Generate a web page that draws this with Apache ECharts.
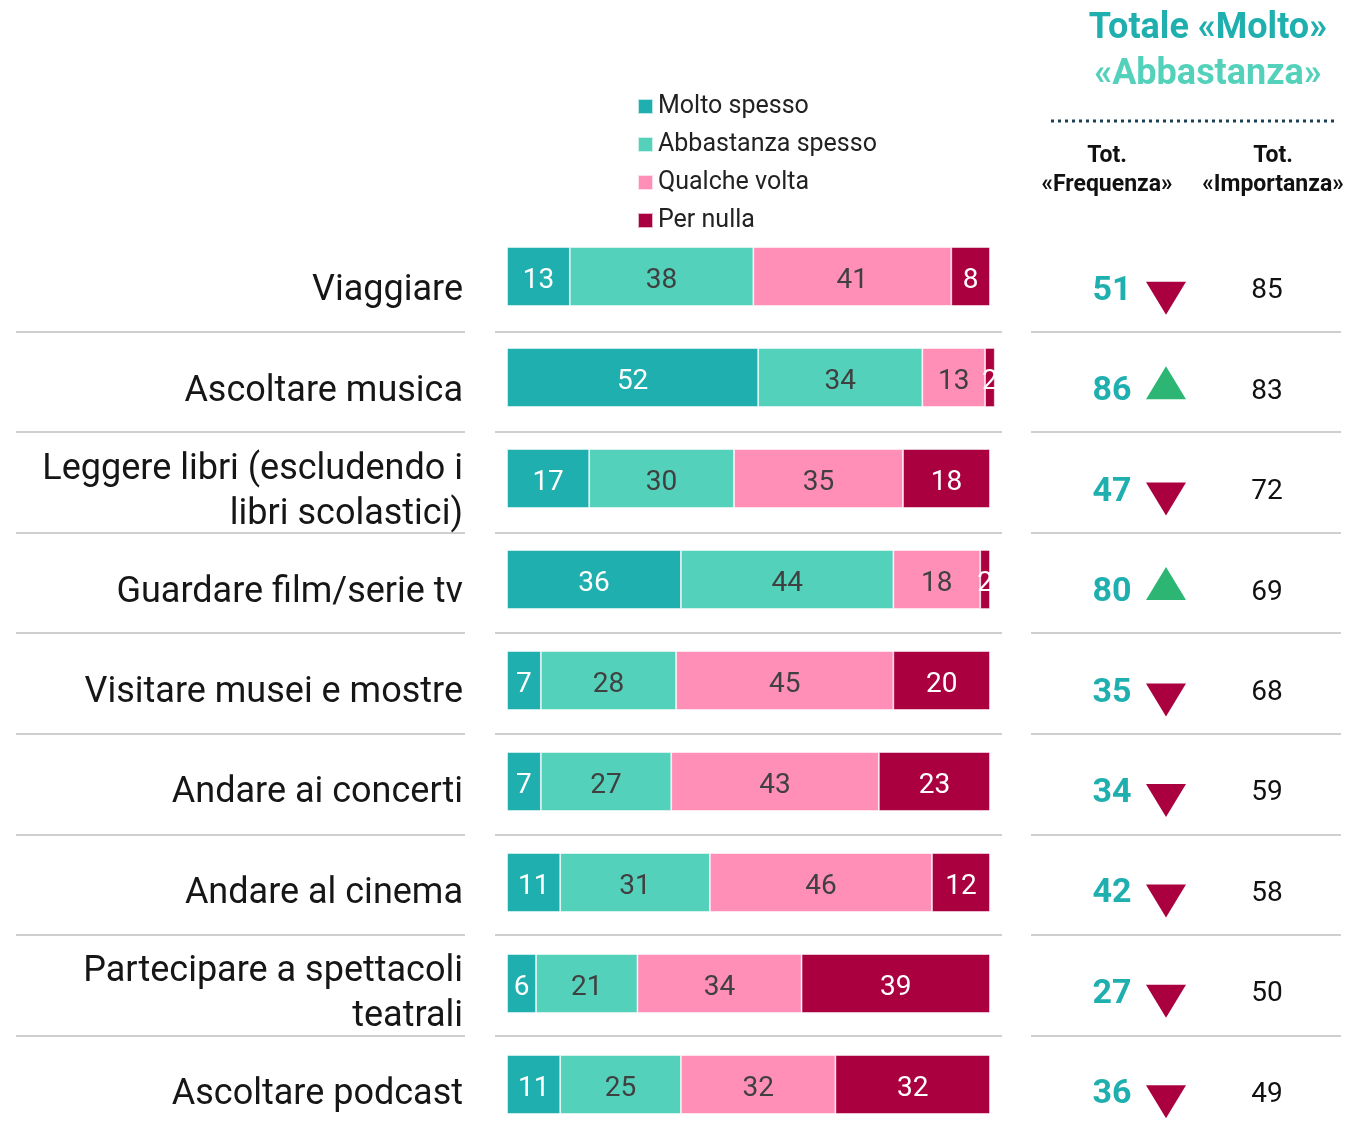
<!DOCTYPE html>
<html>
<head>
<meta charset="utf-8">
<script src="https://cdn.jsdelivr.net/npm/echarts@6/dist/echarts.min.js"></script>
<style>
  html, body { margin: 0; padding: 0; background: #fff; }
  #wrap { width: 1348px; height: 1131px; overflow: hidden; position: relative; }
  #chart { width: 1348px; height: 1180px; }
</style>
</head>
<body>
<div id="wrap"><div id="chart"></div></div>
<script>
// dati
const categories = [
  'Viaggiare',
  'Ascoltare musica',
  'Leggere libri (escludendo i\nlibri scolastici)',
  'Guardare film/serie tv',
  'Visitare musei e mostre',
  'Andare ai concerti',
  'Andare al cinema',
  'Partecipare a spettacoli\nteatrali',
  'Ascoltare podcast'
]
const seriesNames = ['Molto spesso', 'Abbastanza spesso', 'Qualche volta', 'Per nulla']
const moltoSpesso = [13, 52, 17, 36, 7, 7, 11, 6, 11]
const abbastanzaSpesso = [38, 34, 30, 44, 28, 27, 31, 21, 25]
const qualcheVolta = [41, 13, 35, 18, 45, 43, 46, 34, 32]
const perNulla = [8, 2, 18, 2, 20, 23, 12, 39, 32]
const totFrequenza = [51, 86, 47, 80, 35, 34, 42, 27, 36]
const trend = ['down', 'up', 'down', 'up', 'down', 'down', 'down', 'down', 'down']
const totImportanza = [85, 83, 72, 69, 68, 59, 58, 50, 49]

const colors = ['#1fafaf', '#54d1ba', '#ff8fb7', '#ab0040']
const labelColors = ['#fff', '#404040', '#404040', '#fff']
const font = 'Roboto, "Noto Sans", sans-serif'

// colonne della tabella a destra (posizioni nel grid 5, 0..310)
const colFreq = 81
const colArrow = 135
const colImp = 236

const chart = echarts.init(document.getElementById('chart'))

const rowsA = { top: 231, height: 905 } // righe separatrici
const rowsB = { top: 241, height: 904 } // testi

const lineAxis = (gridIndex) => ({
  type: 'category',
  gridIndex,
  inverse: true,
  data: categories,
  axisLine: { show: false },
  axisTick: { show: false },
  axisLabel: { show: false },
  splitLine: {
    show: true,
    showMinLine: false,
    showMaxLine: false,
    lineStyle: { color: '#cfcfcf', width: 2 }
  }
})

const hiddenX = (gridIndex, min, max) => ({
  type: 'value', gridIndex, min, max, show: false, splitLine: { show: false }
})

const barSeries = [moltoSpesso, abbastanzaSpesso, qualcheVolta, perNulla].map((vals, k) => ({
  name: seriesNames[k],
  type: 'bar',
  stack: 'tot',
  xAxisIndex: 0,
  yAxisIndex: 0,
  barWidth: 59,
  data: vals,
  itemStyle: { color: colors[k], borderColor: 'rgba(255,255,255,0.7)', borderWidth: 0.8 },
  label: {
    show: true,
    position: 'inside',
    offset: [0, 4],
    color: labelColors[k],
    fontFamily: font,
    fontSize: 28
  },
  emphasis: { disabled: true }
}))

const option = {
  animation: false,
  textStyle: { fontFamily: font },
  legend: {
    data: seriesNames,
    orient: 'vertical',
    left: 632,
    top: 89,
    icon: 'rect',
    itemWidth: 15,
    itemHeight: 15,
    itemGap: 13,
    textStyle: { fontSize: 25, color: '#222', fontFamily: font }
  },
  grid: [
    { left: 495, width: 507, top: 226, height: 909 },
    { left: 16, width: 449, top: rowsA.top, height: rowsA.height },
    { left: 495, width: 507, top: rowsA.top, height: rowsA.height },
    { left: 1031, width: 310, top: rowsA.top, height: rowsA.height },
    { left: 16, width: 449, top: rowsB.top, height: rowsB.height },
    { left: 1031, width: 310, top: rowsB.top, height: rowsB.height }
  ],
  xAxis: [
    hiddenX(0, -2.5, 102.5),
    hiddenX(1, 0, 1),
    hiddenX(2, 0, 1),
    hiddenX(3, 0, 1),
    hiddenX(4, 0, 1),
    hiddenX(5, 0, 310)
  ],
  yAxis: [
    { type: 'category', gridIndex: 0, inverse: true, data: categories, show: false },
    lineAxis(1),
    lineAxis(2),
    lineAxis(3),
    {
      type: 'category',
      gridIndex: 4,
      inverse: true,
      data: categories,
      position: 'right',
      axisLine: { show: false },
      axisTick: { show: false },
      splitLine: { show: false },
      axisLabel: {
        inside: true,
        margin: 2,
        fontSize: 36,
        lineHeight: 45,
        color: '#161616',
        fontFamily: font
      }
    },
    { type: 'category', gridIndex: 5, inverse: true, data: categories, show: false }
  ],
  graphic: [
    {
      type: 'text', x: 1208, y: 29,
      style: { text: 'Totale «Molto»', fill: '#1fafaf', font: 'bold 36px ' + font, align: 'center', verticalAlign: 'middle' }
    },
    {
      type: 'text', x: 1208, y: 75,
      style: { text: '«Abbastanza»', fill: '#54d1ba', font: 'bold 36px ' + font, align: 'center', verticalAlign: 'middle' }
    },
    {
      type: 'line',
      shape: { x1: 1051, y1: 121, x2: 1336, y2: 121 },
      style: { stroke: '#1b3f55', lineWidth: 3, lineDash: [3, 4] }
    },
    {
      type: 'text', x: 1107, y: 170.5,
      style: { text: 'Tot.\n«Frequenza»', fill: '#111', font: 'bold 23px ' + font, align: 'center', verticalAlign: 'middle', lineHeight: 29 }
    },
    {
      type: 'text', x: 1273, y: 170.5,
      style: { text: 'Tot.\n«Importanza»', fill: '#111', font: 'bold 23px ' + font, align: 'center', verticalAlign: 'middle', lineHeight: 29 }
    }
  ],
  series: [
    ...barSeries,
    {
      name: 'freq',
      type: 'scatter',
      xAxisIndex: 5,
      yAxisIndex: 5,
      symbolSize: 0,
      itemStyle: { opacity: 1 },
      data: totFrequenza.map((v, i) => [colFreq, i, v]),
      label: {
        show: true,
        position: 'inside',
        formatter: (p) => p.value[2],
        color: '#1fafaf',
        fontWeight: 'bold',
        fontSize: 34,
        fontFamily: font
      }
    },
    {
      name: 'trend',
      type: 'scatter',
      xAxisIndex: 5,
      yAxisIndex: 5,
      symbol: 'triangle',
      symbolSize: [40, 33],
      itemStyle: { opacity: 1 },
      data: trend.map((t, i) => ({
        value: [colArrow, i],
        symbolRotate: t === 'down' ? 180 : 0,
        symbolOffset: t === 'down' ? [0, 7] : [0, -9],
        itemStyle: { color: t === 'down' ? '#ab0040' : '#2db673', opacity: 1 }
      }))
    },
    {
      name: 'imp',
      type: 'scatter',
      xAxisIndex: 5,
      yAxisIndex: 5,
      symbolSize: 0,
      itemStyle: { opacity: 1 },
      data: totImportanza.map((v, i) => [colImp, i, v]),
      label: {
        show: true,
        position: 'inside',
        formatter: (p) => p.value[2],
        color: '#111',
        fontSize: 28,
        fontFamily: font
      }
    }
  ]
}

chart.setOption(option)
</script>
</body>
</html>
